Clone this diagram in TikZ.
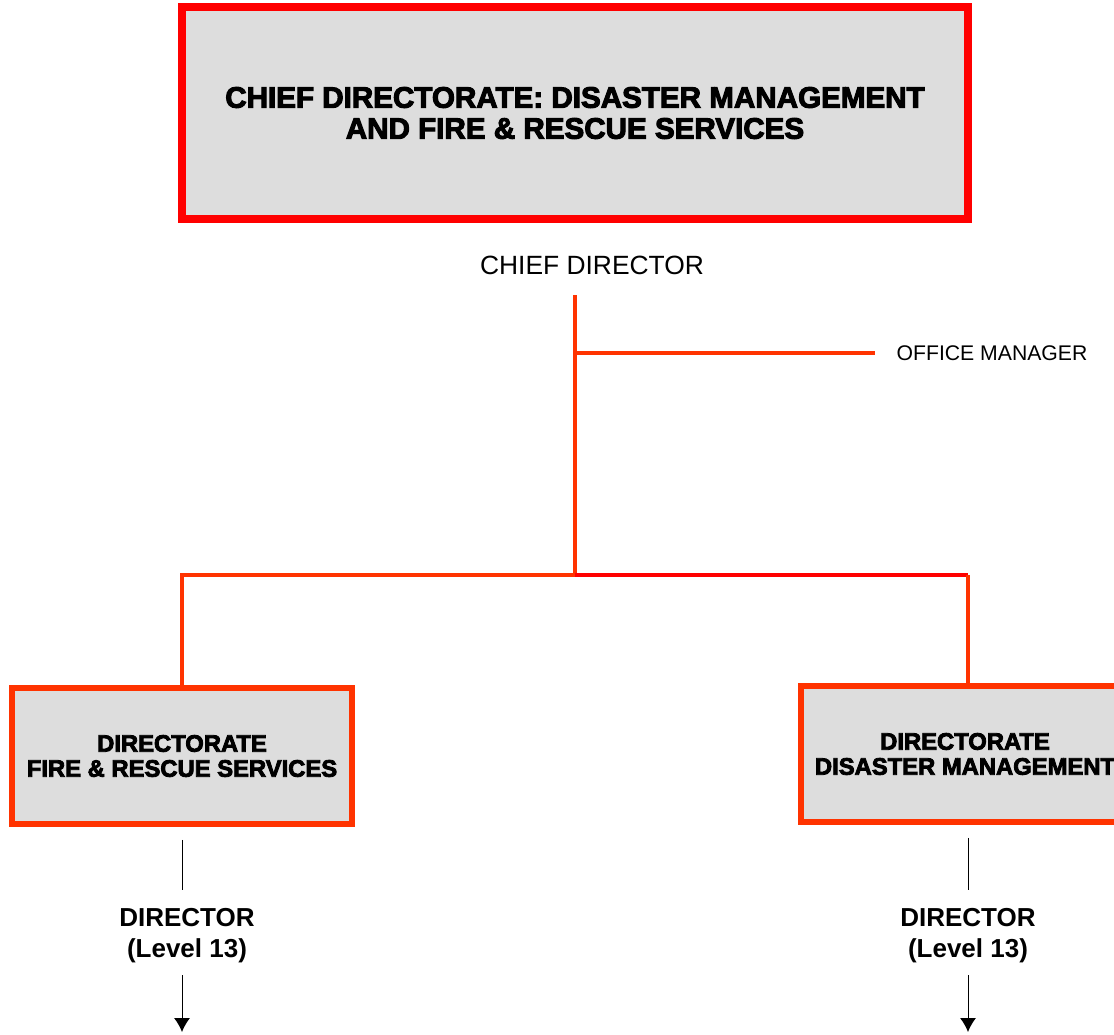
\documentclass[tikz,border=0pt]{standalone}
\usepackage{fontspec}
\setmainfont{Liberation Sans}
\newfontfamily\heavyfont{Liberation Sans}[BoldFeatures={FakeBold=3.5}]
\usepackage{tikz}
\usetikzlibrary{arrows.meta}
\definecolor{topred}{HTML}{FF0000}
\definecolor{linered}{HTML}{FF3300}
\definecolor{boxgray}{HTML}{DDDDDD}
\tikzstyle{mainbox} = [rectangle, minimum width=393pt, minimum height=105.75pt, align=center, draw=topred, line width=4pt, fill=boxgray, font=\heavyfont\bfseries\fontsize{14.8}{15.5}\selectfont]
\tikzstyle{dirbox} = [rectangle, minimum width=170pt, minimum height=67.75pt, align=center, draw=linered, line width=3pt, fill=boxgray, font=\heavyfont\bfseries\fontsize{11.9}{12.5}\selectfont]
\tikzstyle{headtext} = [font=\fontsize{13.2}{16}\selectfont]
\tikzstyle{smalltext} = [font=\fontsize{10.6}{13}\selectfont]
\tikzstyle{rank} = [align=center, font=\bfseries\fontsize{13}{15.5}\selectfont]
\tikzstyle{link} = [draw=linered, line width=2pt]
\tikzstyle{redlink} = [draw=topred, line width=2pt]
\tikzstyle{thinline} = [line width=0.5pt]
\tikzstyle{arrow} = [line width=0.5pt, -{Latex[width=8pt,length=7pt]}]

\begin{document}
\begin{tikzpicture}[x=0.5pt, y=-0.5pt, node distance=88pt]
    \useasboundingbox (0,0) rectangle (1114,1034);
    \node (cdbox) [mainbox] at (575,113) {CHIEF DIRECTORATE: DISASTER MANAGEMENT\\AND FIRE \& RESCUE SERVICES};
    \node (cdir) [headtext] at (592,265) {CHIEF DIRECTOR};
    \node (offman) [smalltext] at (992,353) {OFFICE MANAGER};
    \node (fire) [dirbox] at (182,756) {DIRECTORATE\\FIRE \& RESCUE SERVICES};
    \node (disman) [dirbox, minimum width=164pt] at (965,754) {DIRECTORATE\\DISASTER MANAGEMENT};
    \node (dir1) [rank, below of=fire, xshift=2.5pt, yshift=-2pt] {DIRECTOR\\(Level 13)};
    \node (dir2) [rank, below of=disman, xshift=1.5pt, yshift=-3pt] {DIRECTOR\\(Level 13)};

    \coordinate (cdtop) at (575,295);
    \coordinate (hub) at (575,575);
    \coordinate (hubr) at (968,575);
    \coordinate (end1) at (182,1032);
    \coordinate (end2) at (968,1032);

    \draw [link] (cdtop) -- (hub);
    \draw [link, shorten >=7.5pt] (cdtop |- offman) -- (offman.west);
    \draw [link] (fire.north) |- (hub);
    \draw [redlink] (hub) -- (hubr);
    \draw [link] (hubr) -- (hubr |- disman.north);

    \draw [thinline, shorten <=6.5pt, shorten >=6pt] (fire.south) -- (fire.south |- dir1.north);
    \draw [arrow, shorten <=2.5pt] (fire.south |- dir1.south) -- (end1);
    \draw [thinline, shorten <=6.5pt, shorten >=6pt] (hubr |- disman.south) -- (hubr |- dir2.north);
    \draw [arrow, shorten <=2.5pt] (hubr |- dir2.south) -- (end2);
\end{tikzpicture}
\end{document}
